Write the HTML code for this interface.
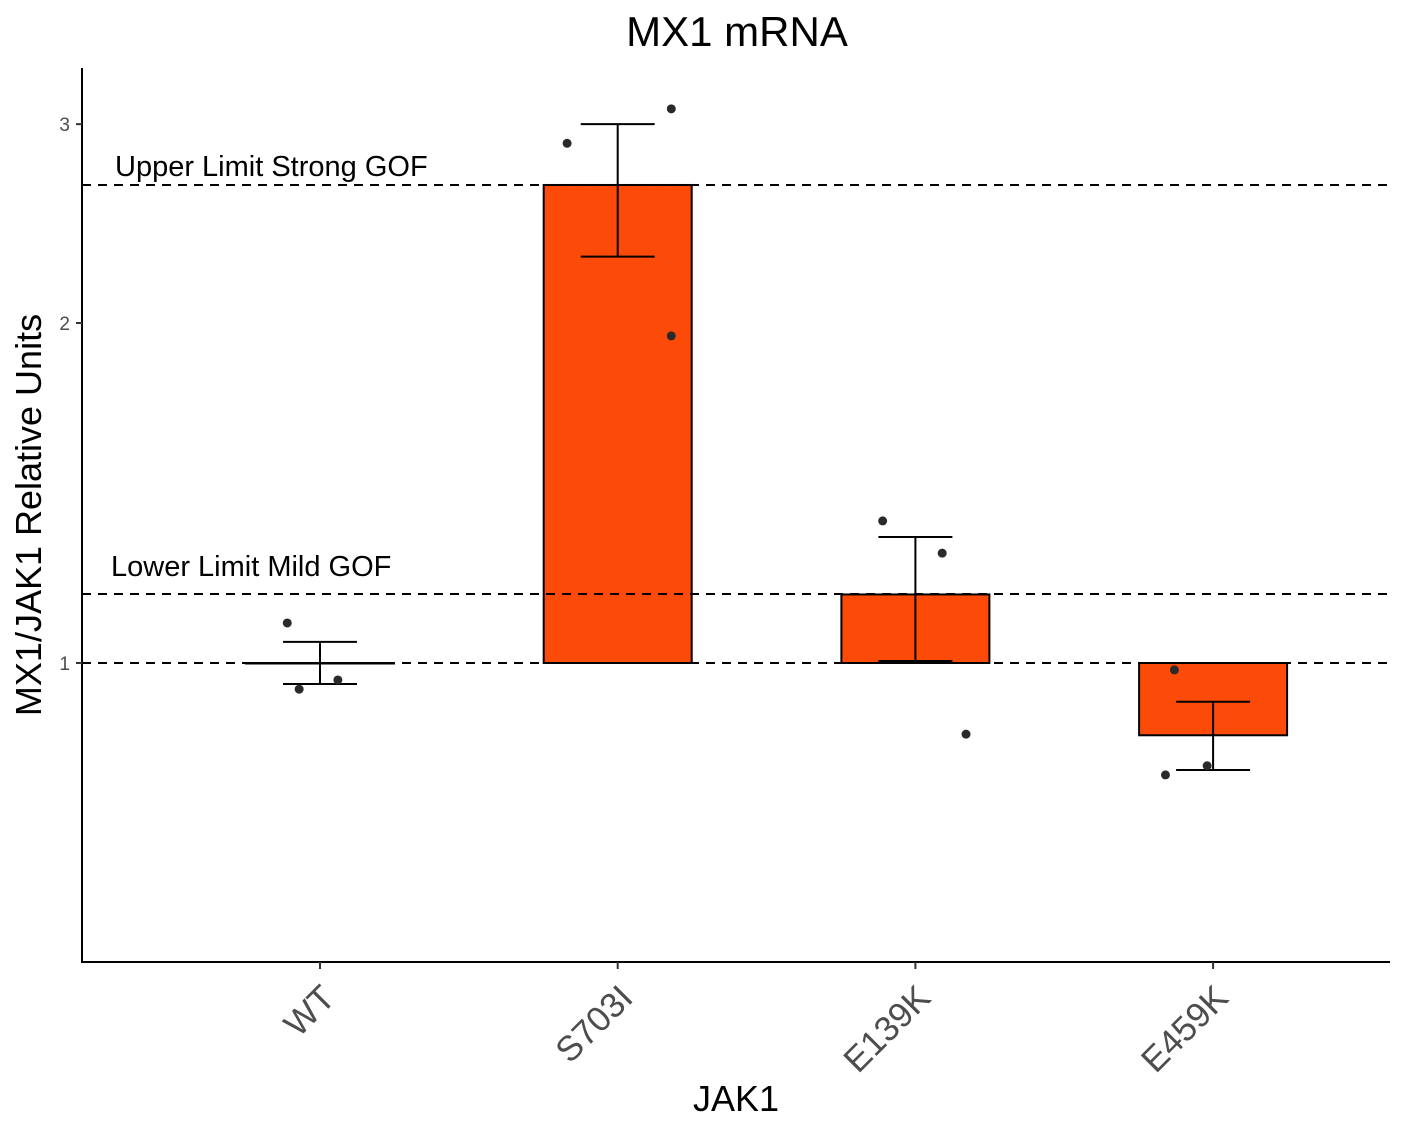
<!DOCTYPE html>
<html><head><meta charset="utf-8"><style>
body{margin:0;background:#fff;}
svg{display:block;font-family:"Liberation Sans",Arial,sans-serif;}
</style></head><body>
<svg id="chart" width="1406" height="1128">
<text x="737" y="46" font-size="42" text-anchor="middle">MX1 mRNA</text>
<text transform="translate(41,515) rotate(-90)" font-size="36" text-anchor="middle">MX1/JAK1 Relative Units</text>
<text x="736" y="1111" font-size="36" text-anchor="middle">JAK1</text>
<g id="plot"></g>
</svg>
<script>
const categories=["WT","S703I","E139K","E459K"];
const barValues=[1.0,2.65,1.15,0.863];
const errHigh=[1.044,3.0,1.293,0.924];
const errLow=[0.958,2.29,1.004,0.804];
const pointCat=[0,0,0,1,1,1,2,2,2,3,3,3];
const pointX=[-0.11,-0.07,0.06,-0.17,0.18,0.18,-0.11,0.09,0.17,-0.13,-0.16,-0.02];
const pointVal=[1.085,0.948,0.966,2.885,3.095,1.948,1.336,1.251,0.865,0.986,0.796,0.811];
const yTicks=[1,2,3];
const refLines=[2.65,1.151];
const refLabels=["Upper Limit Strong GOF","Lower Limit Mild GOF"];

const NS="http://www.w3.org/2000/svg";
const g=document.getElementById('plot');
const y=v=>663-Math.log(v)*490.5;
const xc=i=>320+i*297.7;
const step=297.7;
function mk(t,a){const e=document.createElementNS(NS,t);for(const k in a)e.setAttribute(k,a[k]);g.appendChild(e);return e;}

barValues.forEach((v,i)=>{
  const top=Math.min(y(v),y(1)),h=Math.abs(y(v)-y(1));
  const r=mk('rect',{x:xc(i)-74,y:top,width:148,height:Math.max(h,0.5),fill:'#FC4A08',stroke:'#000','stroke-width':2});
  
  
});
refLines.forEach((v,i)=>{
  const l=mk('line',{x1:82,x2:1394,y1:y(v),y2:y(v),stroke:'#000','stroke-width':2,'stroke-dasharray':'9,7'});
  
  
  const t=mk('text',{x:i==0?115:111,y:y(v)-9-(i==1?9:0),'font-size':29});
  t.textContent=refLabels[i];
  
  
});
const l1=mk('line',{x1:82,x2:1394,y1:y(1),y2:y(1),stroke:'#000','stroke-width':2,'stroke-dasharray':'9,7'});


categories.forEach((c,i)=>{
  const x=xc(i);
  const e=mk('path',{d:`M${x-37},${y(errHigh[i])}H${x+37}M${x},${y(errHigh[i])}V${y(errLow[i])}M${x-37},${y(errLow[i])}H${x+37}`,stroke:'#000','stroke-width':2,fill:'none'});
  
  
});
pointVal.forEach((v,k)=>{
  const p=mk('circle',{cx:xc(pointCat[k])+pointX[k]*step,cy:y(v),r:4.5,fill:'#2a2a2a'});
  
  
});
const ax=mk('path',{d:'M82,68V962H1390',stroke:'#000','stroke-width':2,fill:'none'});


yTicks.forEach(v=>{
  const t=mk('line',{x1:76,x2:82,y1:y(v),y2:y(v),stroke:'#333','stroke-width':2});
  
  
  const l=mk('text',{x:70,y:y(v)+7,'font-size':19,'text-anchor':'end',fill:'#4d4d4d'});
  l.textContent=v;
  
  
});
categories.forEach((c,i)=>{
  const x=xc(i);
  const t=mk('line',{x1:x,x2:x,y1:962,y2:969,stroke:'#333','stroke-width':2});
  
  
  const l=mk('text',{transform:`translate(${x+17},${1000}) rotate(-45)`,'font-size':35,'text-anchor':'end',fill:'#4d4d4d'});
  l.textContent=c;
  
  
});
</script>
</body></html>
